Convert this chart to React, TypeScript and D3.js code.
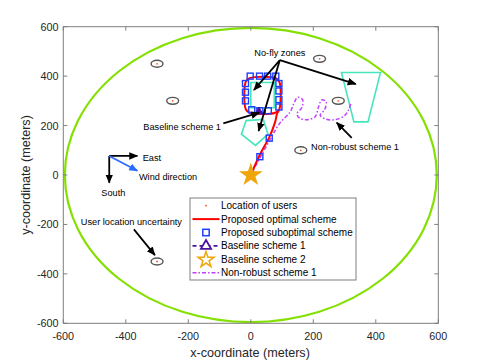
import React from 'react'
import * as d3 from 'd3'

// ---- data (meters) ----
const xTicks = [-600, -400, -200, 0, 200, 400, 600]
const yTicks = [-600, -400, -200, 0, 200, 400, 600]

const userX = [-300, -250, 220, 280, 160, -300]
const userY = [450, 300, 470, 300, 100, -350]
const uncertaintyRx = 19
const uncertaintyRy = 14

const coverageRadius = 595

const noFlySquare = [[0, 272], [75, 272], [75, 374], [0, 374]]
const noFlyPentagon = [[-15, 220], [40, 225], [55, 165], [15, 120], [-30, 165]]
const noFlyTrapezoid = [[290, 415], [415, 415], [375, 215], [330, 215]]

const optimalPath = [
  [0, 0], [30, 85], [60, 155], [78, 215], [84, 248], [92, 268], [92, 375], [80, 392],
  [-4, 392], [-16, 378], [-16, 266], [-4, 252], [78, 252], [92, 268]
]

const suboptimalX = [0, 29, 59, -2, 28, 54, 80, -17, -17, -17, 90, 90, 90, 90, 3, 29, 56]
const suboptimalY = [0, 74, 149, 400, 400, 400, 400, 370, 335, 300, 370, 340, 305, 275, 264, 260, 260]

const baseline1X = [26]
const baseline1Y = [258]

const baseline2X = [0]
const baseline2Y = [0]

const nonRobustPath = [
  [0, 0], [61, 142], [93, 210], [126, 255], [138, 290], [150, 314], [166, 304], [163, 272],
  [148, 248], [156, 230], [180, 224], [206, 236], [216, 272], [227, 304], [241, 296],
  [236, 264], [222, 242], [240, 226], [269, 224], [300, 240], [314, 266], [321, 293]
]

const legendLabels = [
  'Location of users',
  'Proposed optimal scheme',
  'Proposed suboptimal scheme',
  'Baseline scheme 1',
  'Baseline scheme 2',
  'Non-robust scheme 1'
]

// annotation arrows: [x1, y1, x2, y2]
const blackArrows = [
  [93, 465, 10, 344],
  [93, 465, 25, 178],
  [93, 465, 336, 368],
  [-88, 209, 27, 252],
  [323, 150, 275, 212],
  [-374, -220, -307, -324],
  [-453, 77, -363, 77],
  [-453, 77, -453, -31]
]
const windArrow = [-453, 77, -363, 17]

const annotations = [
  { text: 'No-fly zones', x: 93, y: 495, anchor: 'middle' },
  { text: 'Baseline scheme 1', x: -344, y: 195, anchor: 'start' },
  { text: 'Non-robust scheme 1', x: 193, y: 112, anchor: 'start' },
  { text: 'User location uncertainty', x: -544, y: -191, anchor: 'start' },
  { text: 'East', x: -346, y: 68, anchor: 'start' },
  { text: 'Wind direction', x: -358, y: -7, anchor: 'start' },
  { text: 'South', x: -440, y: -72, anchor: 'middle' }
]

const C = {
  axis: '#7f7f7f',
  text: '#262626',
  green: '#84e000',
  zone: '#45e6bd',
  red: '#ff0000',
  blue: '#1f3dff',
  purple: '#4a12a0',
  orange: '#f0a60a',
  magenta: '#c040ff',
  user: '#ff5a1f',
  wind: '#2a6cff'
}

const FONT = '"Liberation Sans", Arial, sans-serif'

export default function App() {
  const width = 485
  const height = 363
  const plot = { left: 63.3, right: 438.3, top: 26.7, bottom: 323.3 }

  const x = d3.scaleLinear().domain([-600, 600]).range([plot.left, plot.right])
  const y = d3.scaleLinear().domain([-600, 600]).range([plot.bottom, plot.top])

  const poly = (pts: number[][]) => pts.map(p => `${x(p[0])},${y(p[1])}`).join(' ')
  const curve = d3.line<number[]>().x(d => x(d[0])).y(d => y(d[1])).curve(d3.curveCatmullRom.alpha(0.5))

  const starBig = d3.symbol().type(d3.symbolStar).size(125)()
  const starLegend = d3.symbol().type(d3.symbolStar).size(80)()
  const triSmall = d3.symbol().type(d3.symbolTriangle).size(22)()
  const triLegend = d3.symbol().type(d3.symbolTriangle).size(45)()

  const legend = { x: 190, y: 198, w: 166, h: 82, row0: 205.7, step: 13.4, symX: 206, textX: 221 }

  return (
    <svg width={width} height={height} style={{ position: 'absolute', left: 0, top: 0, background: '#fff' }} fontFamily={FONT}>
      <defs>
        <marker id="ahBlack" viewBox="0 0 10 10" refX="9" refY="5" markerWidth="5" markerHeight="5" orient="auto">
          <path d="M0,0.8 L10,5 L0,9.2 z" fill="#000" />
        </marker>
        <marker id="ahBlue" viewBox="0 0 10 10" refX="9" refY="5" markerWidth="5" markerHeight="5" orient="auto">
          <path d="M0,0.8 L10,5 L0,9.2 z" fill={C.wind} />
        </marker>
        <clipPath id="plotClip">
          <rect x={plot.left} y={plot.top} width={plot.right - plot.left} height={plot.bottom - plot.top} />
        </clipPath>
      </defs>

      <rect x={plot.left} y={plot.top} width={plot.right - plot.left} height={plot.bottom - plot.top} fill="#fff" />

      <g clipPath="url(#plotClip)">
        {/* coverage area */}
        <ellipse cx={x(0)} cy={y(0)} rx={x(coverageRadius) - x(0)} ry={y(0) - y(coverageRadius)}
          fill="none" stroke={C.green} strokeWidth={2.2} />

        {/* no-fly zones */}
        {[noFlySquare, noFlyPentagon, noFlyTrapezoid].map((z, i) => (
          <polygon key={i} points={poly(z)} fill="none" stroke={C.zone} strokeWidth={1.6} />
        ))}

        {/* users with uncertainty */}
        {userX.map((ux, i) => (
          <g key={i}>
            <ellipse cx={x(ux)} cy={y(userY[i])} rx={x(uncertaintyRx) - x(0)} ry={y(0) - y(uncertaintyRy)}
              fill="none" stroke="#555" strokeWidth={1.4} />
            <circle cx={x(ux)} cy={y(userY[i])} r={0.9} fill={C.user} />
          </g>
        ))}

        {/* non-robust scheme 1 */}
        <path d={curve(nonRobustPath) || ''} fill="none" stroke={C.magenta} strokeWidth={1.5} strokeDasharray="4 2 1.5 2" />

        {/* proposed optimal */}
        <path d={curve(optimalPath) || ''} fill="none" stroke={C.red} strokeWidth={2} strokeLinejoin="round" />

        {/* proposed suboptimal */}
        {suboptimalX.map((sx, i) => (
          <rect key={i} x={x(sx) - 3} y={y(suboptimalY[i]) - 3} width={6} height={6}
            fill="none" stroke={C.blue} strokeWidth={1.4} />
        ))}

        {/* baseline scheme 1 */}
        {baseline1X.map((bx, i) => (
          <path key={i} d={triSmall || ''} transform={`translate(${x(bx)},${y(baseline1Y[i])})`}
            fill={C.purple} stroke={C.purple} strokeWidth={1} />
        ))}

        {/* baseline scheme 2 */}
        {baseline2X.map((bx, i) => (
          <path key={i} d={starBig || ''} transform={`translate(${x(bx)},${y(baseline2Y[i])})`}
            fill={C.orange} stroke={C.orange} strokeWidth={1.2} />
        ))}

        {/* annotation arrows */}
        {blackArrows.map((a, i) => (
          <line key={i} x1={x(a[0])} y1={y(a[1])} x2={x(a[2])} y2={y(a[3])}
            stroke="#000" strokeWidth={1.8} markerEnd="url(#ahBlack)" />
        ))}
        <line x1={x(windArrow[0])} y1={y(windArrow[1])} x2={x(windArrow[2])} y2={y(windArrow[3])}
          stroke={C.wind} strokeWidth={1.8} markerEnd="url(#ahBlue)" />

        {annotations.map((t, i) => (
          <text key={i} x={x(t.x)} y={y(t.y)} textAnchor={t.anchor} dominantBaseline="central"
            fontSize={9.2} fill="#000">{t.text}</text>
        ))}
      </g>

      {/* axes box */}
      <rect x={plot.left} y={plot.top} width={plot.right - plot.left} height={plot.bottom - plot.top}
        fill="none" stroke={C.axis} strokeWidth={1} />
      {xTicks.map(t => (
        <g key={'x' + t}>
          <line x1={x(t)} x2={x(t)} y1={plot.bottom} y2={plot.bottom - 4} stroke={C.axis} />
          <line x1={x(t)} x2={x(t)} y1={plot.top} y2={plot.top + 4} stroke={C.axis} />
          <text x={x(t)} y={336} textAnchor="middle" dominantBaseline="central" fontSize={10.8} fill={C.text}>{t}</text>
        </g>
      ))}
      {yTicks.map(t => (
        <g key={'y' + t}>
          <line x1={plot.left} x2={plot.left + 4} y1={y(t)} y2={y(t)} stroke={C.axis} />
          <line x1={plot.right} x2={plot.right - 4} y1={y(t)} y2={y(t)} stroke={C.axis} />
          <text x={58.5} y={y(t)} textAnchor="end" dominantBaseline="central" fontSize={10.8} fill={C.text}>{t}</text>
        </g>
      ))}
      <text x={250} y={353} textAnchor="middle" dominantBaseline="central" fontSize={12.6} fill={C.text}>x-coordinate (meters)</text>
      <text transform={`translate(26,175) rotate(-90)`} textAnchor="middle" dominantBaseline="central" fontSize={12.6} fill={C.text}>y-coordinate (meters)</text>

      {/* legend */}
      <g>
        <rect x={legend.x} y={legend.y} width={legend.w} height={legend.h} fill="#fff" stroke={C.axis} strokeWidth={1} />
        {legendLabels.map((lab, i) => {
          const ly = legend.row0 + i * legend.step
          return (
            <g key={i}>
              {i === 0 && <circle cx={legend.symX} cy={ly} r={0.9} fill={C.user} />}
              {i === 1 && <line x1={192.5} x2={219.5} y1={ly} y2={ly} stroke={C.red} strokeWidth={2} />}
              {i === 2 && <rect x={legend.symX - 3.2} y={ly - 3.2} width={6.4} height={6.4} fill="none" stroke={C.blue} strokeWidth={1.5} />}
              {i === 3 && (
                <g>
                  <line x1={192.5} x2={219.5} y1={ly} y2={ly} stroke={C.purple} strokeWidth={1.6} strokeDasharray="4 3" />
                  <path d={triLegend || ''} transform={`translate(${legend.symX},${ly})`} fill="#fff" stroke={C.purple} strokeWidth={1.8} />
                </g>
              )}
              {i === 4 && <path d={starLegend || ''} transform={`translate(${legend.symX},${ly + 0.5})`} fill="none" stroke={C.orange} strokeWidth={1.5} />}
              {i === 5 && <line x1={192.5} x2={219.5} y1={ly} y2={ly} stroke={C.magenta} strokeWidth={1.5} strokeDasharray="4 2 1.5 2" />}
              <text x={legend.textX} y={ly} dominantBaseline="central" fontSize={10} fill="#000">{lab}</text>
            </g>
          )
        })}
      </g>
    </svg>
  )
}
